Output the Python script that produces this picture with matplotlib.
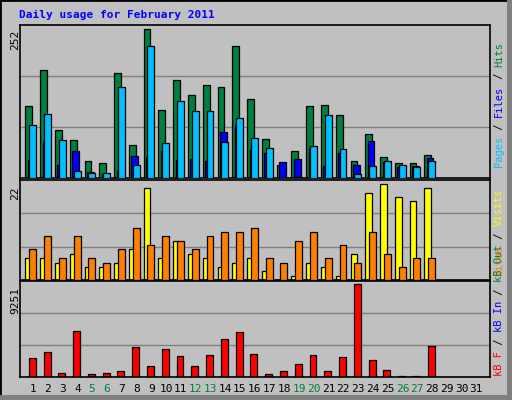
import matplotlib
matplotlib.use("Agg")
import matplotlib.pyplot as plt
from matplotlib.patches import Rectangle

days = list(range(1, 29))
all_days = list(range(1, 32))
weekend = [5, 6, 12, 13, 19, 20, 26, 27]
hits = [121,182,82,65,29,25,178,56,252,115,166,140,157,154,223,133,66,22,46,121,123,106,29,75,36,25,25,39]
files = [30,63,22,46,10,6,11,37,35,46,30,32,29,78,90,48,42,27,32,51,20,42,22,63,27,18,20,34]
pages = [89,108,65,11,8,8,154,22,223,60,130,113,113,61,101,68,51,0,1,54,106,49,6,20,29,22,18,29]
visits = [5,5,4,6,3,3,4,7,21,5,9,6,5,3,4,5,2,0,1,4,3,1,6,20,22,19,18,21]
sites = [7,10,5,10,5,4,7,12,8,10,9,7,10,11,11,12,5,4,9,11,5,8,4,11,6,3,5,5]
kbytes = [1850,2456,437,4575,336,437,639,2960,1144,2758,2052,1144,2153,3768,4474,2254,336,639,1346,2153,639,1951,9251,1648,740,100,100,3061]

W, H = 512, 400
BG = "#C0C0C0"
fig = plt.figure(figsize=(W/100, H/100), dpi=100, facecolor=BG)
mono = "DejaVu Sans Mono"

def px(x0, y0, x1, y1):
    return [x0/W, 1-y1/H, (x1-x0)/W, (y1-y0)/H]

XL = (0.12, 31.93)
panels = [px(20, 25, 490, 178), px(20, 180, 490, 280), px(20, 281, 490, 377)]

def setup(ax, top):
    ax.set_facecolor(BG)
    ax.set_xlim(*XL)
    ax.set_ylim(0, top)
    ax.set_xticks([]); ax.set_yticks([])
    for s in ax.spines.values():
        s.set_color("black"); s.set_linewidth(1.2)
    for f in (1/3, 2/3):
        ax.axhline(top*f, color="#808080", lw=1, zorder=0)

ec = dict(edgecolor="black", linewidth=0.9)
ax1 = fig.add_axes(panels[0])
setup(ax1, 252*151/147)
ax1.bar([d-0.28 for d in days], hits, width=0.46, color="#008040", **ec, zorder=2)
ax1.bar([d-0.12 for d in days], files, width=0.45, color="#0000FF", **ec, zorder=3)
ax1.bar([d-0.02 for d in days], pages, width=0.47, color="#00C0FF", **ec, zorder=4)
ax2 = fig.add_axes(panels[1])
setup(ax2, 22*287/276)
ax2.bar([d-0.28 for d in days], visits, width=0.46, color="#FFFF00", **ec, zorder=2)
ax2.bar([d-0.02 for d in days], sites, width=0.47, color="#FF8000", **ec, zorder=3)
ax3 = fig.add_axes(panels[2])
setup(ax3, 9251*285/275)
ax3.bar([d-0.05 for d in days], kbytes, width=0.47, color="#FF0000", **ec, zorder=2)

for d in all_days:
    x = 20 + (d - XL[0]) / (XL[1]-XL[0]) * 470
    fig.text(x/W, 1-389/H, str(d), ha="center", va="center", fontsize=8,
             family=mono, color="#008040" if d in weekend else "black")

for label, y in [("252", 40), ("22", 193), ("9251", 300)]:
    fig.text(15/W, 1-y/H, label, rotation=90, ha="center", va="center", fontsize=8, family=mono)

renderer = fig.canvas.get_renderer()
def vlabel(parts, ybottom, fs):
    y = ybottom
    for t, c in parts:
        txt = fig.text(499/W, 1-y/H, t, rotation=90, ha="center", va="bottom", fontsize=fs,
                       family=mono, color=c)
        y -= len(t) * fs * 0.602 * 100/72
vlabel([("Pages", "#00C0FF"), (" / ", "#000000"), ("Files", "#0000FF"), (" / ", "#000000"), ("Hits", "#008040")], 167, 7.5)
vlabel([("Sites", "#FF8000"), (" / ", "#000000"), ("Visits", "#FFFF00")], 276, 7.5)
vlabel([("kB F", "#FF0000"), (" / ", "#000000"), ("kB In", "#0000FF"), (" / ", "#000000"), ("kB Out", "#008040")], 376, 7.5)

fig.text(19/W, 1-15/H, "Daily usage for February 2011", ha="left", va="center",
         fontsize=8, family=mono, weight="bold", color="#0000FF")

fig.patches.append(Rectangle((0, 0), 1, 1, transform=fig.transFigure, fill=False,
                             edgecolor="black", linewidth=2))
fig.patches.append(Rectangle((507/W, 0), 5/W, 1, transform=fig.transFigure,
                             facecolor="#808080", edgecolor="none"))
fig.patches.append(Rectangle((0, 0), 1, 5/H, transform=fig.transFigure,
                             facecolor="#808080", edgecolor="none"))

fig.savefig("out.png", dpi=100, facecolor=BG)
